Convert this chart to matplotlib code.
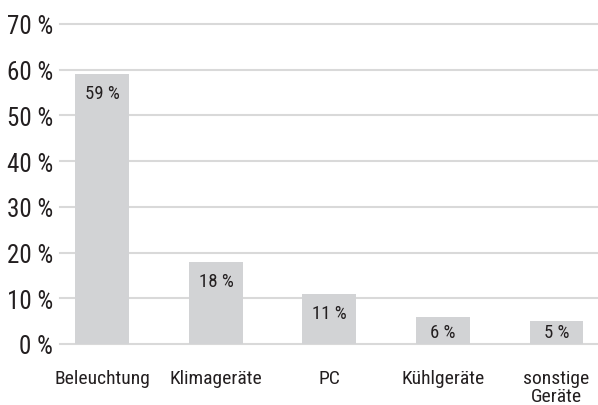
import numpy as np
import matplotlib.pyplot as plt

# Daten
kategorien = ["Beleuchtung", "Klimageräte", "PC", "Kühlgeräte", "sonstige\nGeräte"]
anteile = [59, 18, 11, 6, 5]
y_ticks = [0, 10, 20, 30, 40, 50, 60, 70]

fam = ['Roboto Condensed', 'Archivo Narrow', 'DejaVu Sans']
textfarbe = '#231f20'

fig = plt.figure(figsize=(5.98, 4.06), dpi=100)
ax = fig.add_axes([60 / 598, 61 / 406, 538 / 598, 320 / 406])

x = np.arange(len(kategorien))
balken = ax.bar(x, anteile, width=0.475, color='#d2d3d5', zorder=2)

# Werte in den Balken (bei kleinen Balken nicht tiefer als knapp über 0)
for b, v in zip(balken, anteile):
    y_text = max(v - 4.2, 2.6)
    ax.text(b.get_x() + b.get_width() / 2, y_text, f"{v} %",
            ha='center', va='center', fontsize=13.5,
            family=fam, color=textfarbe, zorder=3)

ax.set_xlim(-0.374, 4.366)
ax.set_ylim(0, 70)
ax.set_yticks(y_ticks)
ax.set_yticklabels([f"{t} %" for t in y_ticks], fontsize=18, family=fam, color=textfarbe)
ax.set_xticks(x)
ax.set_xticklabels(kategorien, fontsize=14, family=fam, color=textfarbe, linespacing=1.0)

ax.tick_params(axis='y', length=0, pad=5)
ax.tick_params(axis='x', length=0, pad=18)

ax.grid(axis='y', color='#d9d9d9', linewidth=1.5, zorder=0)
for linie in ax.get_ygridlines():
    linie.set_clip_on(False)
for s in ax.spines.values():
    s.set_visible(False)

plt.savefig("out.png", dpi=100)
